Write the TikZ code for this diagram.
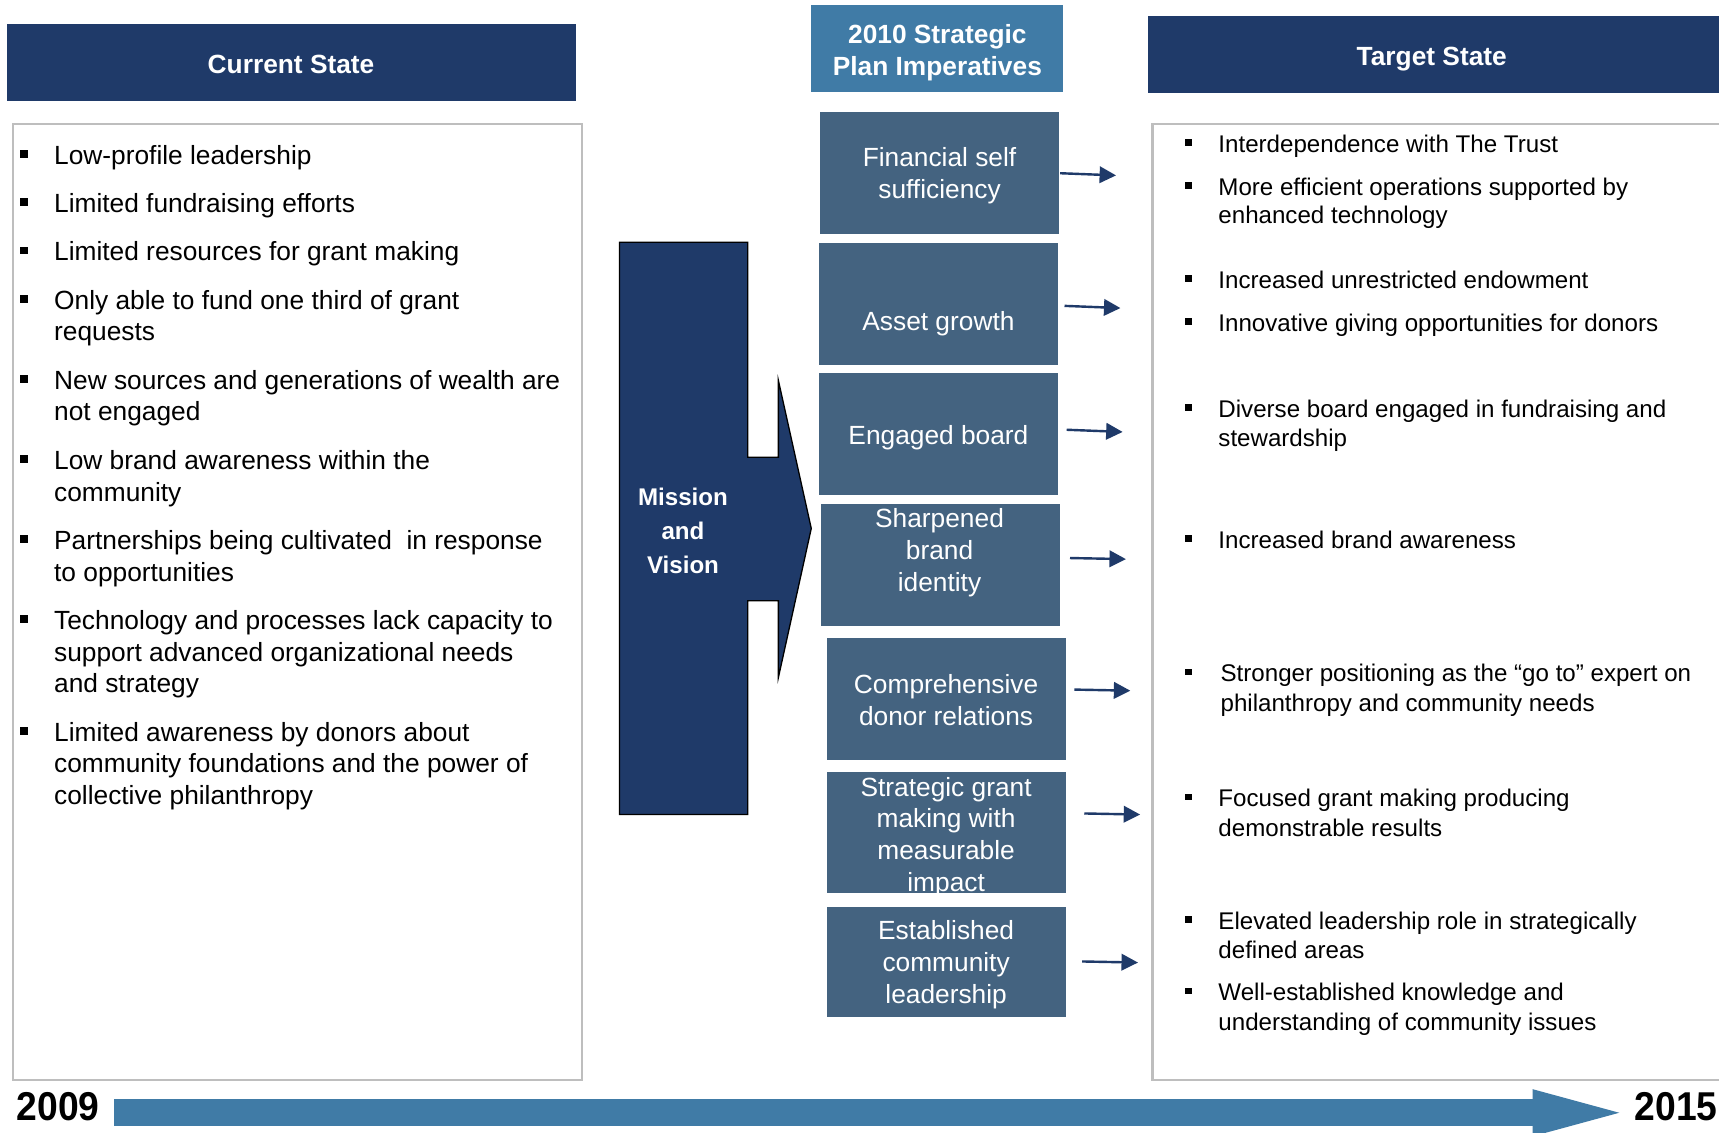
\documentclass[tikz,border=0pt]{standalone}
\usepackage{fontspec}
\setmainfont{Liberation Sans}
\usetikzlibrary{arrows.meta}
\definecolor{navy}{RGB}{31,58,105}
\definecolor{steel}{RGB}{64,123,166}
\definecolor{slate}{RGB}{68,99,128}
\definecolor{framegray}{RGB}{190,190,190}
\begin{document}
\begin{tikzpicture}[x=0.5pt,y=-0.5pt,
  hdr/.style={fill=navy, inner sep=0pt},
  hdrtext/.style={text=white, font=\bfseries\fontsize{12}{14.5}\selectfont, inner sep=0pt, align=center},
  impbox/.style={fill=slate, minimum width=109pt, minimum height=55.5pt, inner sep=0pt},
  imptext/.style={text=white, align=center, font=\fontsize{12}{14.5}\selectfont, inner sep=0pt},
  ltext/.style={anchor=base west, inner sep=0pt, font=\fontsize{12}{14}\selectfont},
  rtext/.style={anchor=base west, inner sep=0pt, font=\fontsize{11}{13}\selectfont},
  bul/.style={fill=black, minimum size=3.5pt, inner sep=0pt},
  rbul/.style={fill=black, minimum size=3.1pt, inner sep=0pt},
  conn/.style={draw=navy, line width=1.1pt, -{Triangle[length=7.5pt,width=7.5pt]}},
  grayframe/.style={draw=framegray, line width=1.2pt},
  year/.style={font=\bfseries\fontsize{17}{18}\selectfont, inner sep=0pt}
]
\useasboundingbox (0,0) rectangle (1568,1033);
\fill[white] (0,0) rectangle (1568,1033);

% headers
\node[hdr, minimum width=259.5pt, minimum height=35pt] (cur) at (265.5,57) {};
\node[hdrtext] (curt) at (265.5,59) {Current State};
\node[hdr, fill=steel, minimum width=115pt, minimum height=39.5pt] (imp) at (855,44.5) {};
\node[hdrtext] (impt) at (855,48) {2010 Strategic\\Plan Imperatives};
\node[hdr, minimum width=262pt, minimum height=35pt] (tgt) at (1309,50) {};
\node[hdrtext] (tgtt) at (1306,54) {Target State};

% frames
\draw[grayframe] (12,113) rectangle (531,985);
\draw[grayframe] (1051,113) rectangle (1580,985);

% left list
\foreach \n/\y in {1/150,2/194,3/238,4/282,5/355,6/428,7/501,8/574,9/676}{
  \node[bul] (lb\n) at (22,\y-9.5) {};
}
\node[ltext] (l1) at (49,150) {Low-profile leadership};
\node[ltext] (l2) at (49,194) {Limited fundraising efforts};
\node[ltext] (l3) at (49,238) {Limited resources for grant making};
\node[ltext] (l4a) at (49,282) {Only able to fund one third of grant};
\node[ltext] (l4b) at (49,311) {requests};
\node[ltext] (l5a) at (49,355) {New sources and generations of wealth are};
\node[ltext] (l5b) at (49,384) {not engaged};
\node[ltext] (l6a) at (49,428) {Low brand awareness within the};
\node[ltext] (l6b) at (49,457) {community};
\node[ltext] (l7a) at (49,501) {Partnerships being cultivated\ \ in response};
\node[ltext] (l7b) at (49,530) {to opportunities};
\node[ltext] (l8a) at (49,574) {Technology and processes lack capacity to};
\node[ltext] (l8b) at (49,603) {support advanced organizational needs};
\node[ltext] (l8c) at (49,632) {and strategy};
\node[ltext] (l9a) at (49,676) {Limited awareness by donors about};
\node[ltext] (l9b) at (49,705) {community foundations and the power of};
\node[ltext] (l9c) at (49,734) {collective philanthropy};

% mission and vision
\draw[fill=navy, draw=black, line width=0.6pt] (565,221) -- (682,221) -- (682,417) -- (710,417) -- (710,347) -- (740,482) -- (710,618) -- (710,548) -- (682,548) -- (682,743) -- (565,743) -- cycle;
\node[text=white, align=center, inner sep=0pt, font=\bfseries\fontsize{11}{15.5}\selectfont] (mv) at (623,484) {Mission\\and\\Vision};

% imperative boxes
\node[impbox] (b1) at (857,157.5) {};
\node[impbox] (b2) at (856,277.5) {};
\node[impbox] (b3) at (856,396) {};
\node[impbox] (b4) at (858,515.5) {};
\node[impbox] (b5) at (863,637.5) {};
\node[impbox] (b6) at (863,759.5) {};
\node[impbox, minimum height=50.5pt] (b7) at (863,877.5) {};
\node[imptext] (t1) at (857,160.5) {Financial self\\sufficiency};
\node[imptext] (t2) at (856,295) {Asset growth};
\node[imptext] (t3) at (856,399) {Engaged board};
\node[imptext] (t4) at (857,504) {Sharpened\\brand\\identity};
\node[imptext] (t5) at (863,638.5) {Comprehensive\\donor relations};
\node[imptext] (t6) at (863,763.5) {Strategic grant\\making with\\measurable\\impact};
\node[imptext] (t7) at (863,880) {Established\\community\\leadership};

% arrows
\coordinate (s1) at (967,158);  \coordinate (e1) at (1018,160);
\coordinate (s2) at (971,279);  \coordinate (e2) at (1022,281);
\coordinate (s3) at (973,392);  \coordinate (e3) at (1024,394);
\coordinate (s4) at (976,509);  \coordinate (e4) at (1027,510);
\coordinate (s5) at (980,629);  \coordinate (e5) at (1031,630);
\coordinate (s6) at (989,742);  \coordinate (e6) at (1040,743);
\coordinate (s7) at (987,877);  \coordinate (e7) at (1038,878);
\foreach \i in {1,...,7}{ \draw[conn] (s\i) -- (e\i); }

% right list
\foreach \n/\y in {1/139,2/178,3/263,4/302,5/381,6/500,7/622,8/736,9/848,10/913}{
  \node[rbul] (rb\n) at (1084,\y-9) {};
}
\node[rtext] (r1) at (1111,139) {Interdependence with The Trust};
\node[rtext] (r2a) at (1111,178) {More efficient operations supported by};
\node[rtext] (r2b) at (1111,204) {enhanced technology};
\node[rtext] (r3) at (1111,263) {Increased unrestricted endowment};
\node[rtext] (r4) at (1111,302) {Innovative giving opportunities for donors};
\node[rtext] (r5a) at (1111,381) {Diverse board engaged in fundraising and};
\node[rtext] (r5b) at (1111,407) {stewardship};
\node[rtext] (r6) at (1111,500) {Increased brand awareness};
\node[rtext] (r7a) at (1113,622) {Stronger positioning as the “go to” expert on};
\node[rtext] (r7b) at (1113,649) {philanthropy and community needs};
\node[rtext] (r8a) at (1111,736) {Focused grant making producing};
\node[rtext] (r8b) at (1111,763) {demonstrable results};
\node[rtext] (r9a) at (1111,848) {Elevated leadership role in strategically};
\node[rtext] (r9b) at (1111,874) {defined areas};
\node[rtext] (r10a) at (1111,913) {Well-established knowledge and};
\node[rtext] (r10b) at (1111,940) {understanding of community issues};

% timeline
\fill[steel] (104,1002.5) -- (1398,1002.5) -- (1398,993.5) -- (1477,1015) -- (1398,1036.5) -- (1398,1027) -- (104,1027) -- cycle;
\node[year] (y1) at (53,1009) {\scalebox{1}[1.08]{2009}};
\node[year] (y2) at (1529,1009) {\scalebox{1}[1.08]{2015}};
\end{tikzpicture}
\end{document}
